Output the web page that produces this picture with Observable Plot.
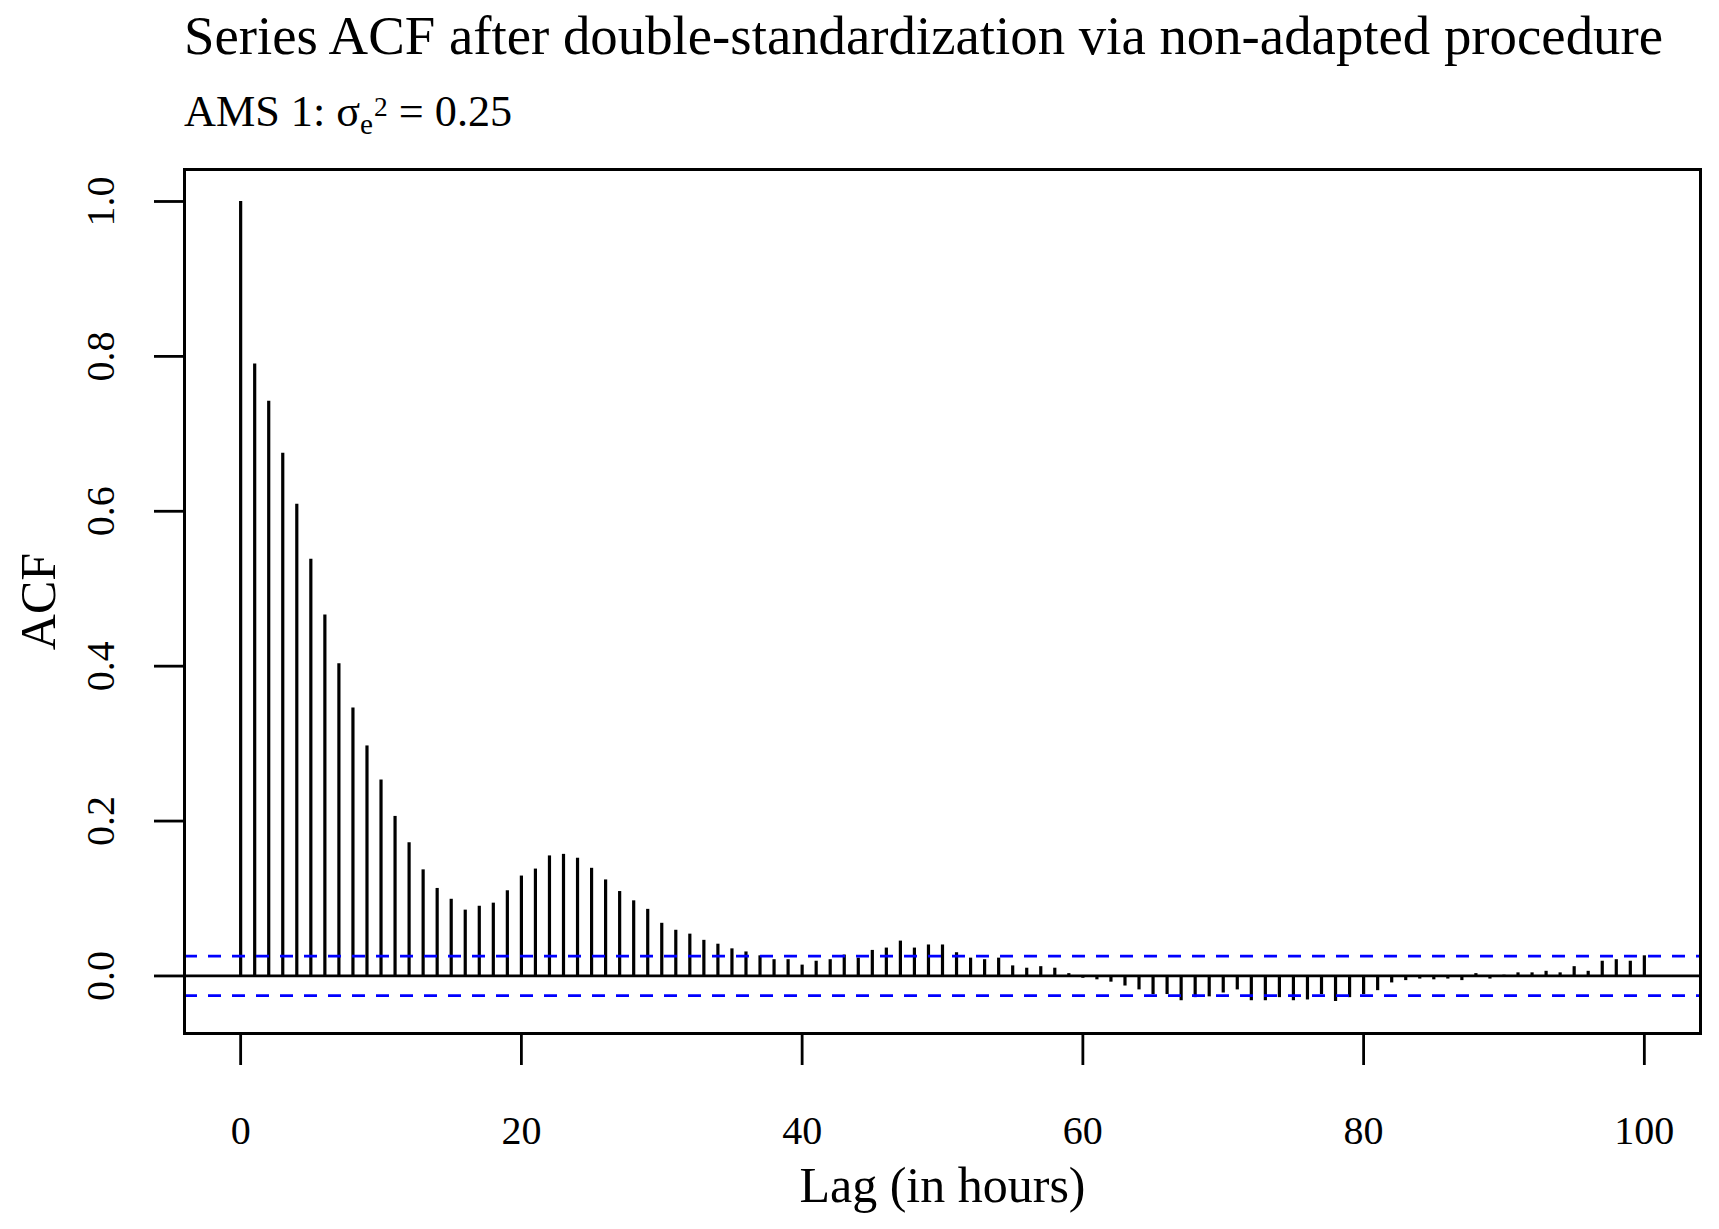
<!DOCTYPE html>
<html>
<head>
<meta charset="utf-8">
<script src="https://cdn.jsdelivr.net/npm/d3@7"></script>
<script src="https://cdn.jsdelivr.net/npm/@observablehq/plot@0.6"></script>
<style>
  body { margin: 0; background: #ffffff; }
  #wrap { position: relative; width: 1719px; height: 1229px; font-family: "Liberation Serif", "Times New Roman", serif; color: #000; background: #fff; overflow: hidden; }
  #header { position: relative; width: 1719px; height: 150px; }
  #title { position: absolute; left: 184px; top: 9px; font-size: 54.8px; line-height: 1; white-space: nowrap; }
  #subtitle { position: absolute; left: 184px; top: 90px; font-size: 44.2px; line-height: 1; white-space: nowrap; }
  .sub { font-size: 0.66em; position: relative; top: 0.26em; }
  .sup { font-size: 0.62em; position: relative; top: -0.38em; margin-left: 0.04em; }
  #chart svg { display: block; }
</style>
</head>
<body>
<div id="wrap">
  <div id="header">
    <div id="title">Series ACF after double-standardization via non-adapted procedure</div>
    <div id="subtitle">AMS 1: σ<span class="sub">e</span><span class="sup">2</span> = 0.25</div>
  </div>
  <div id="chart"></div>
</div>
<script>
// Lag values (hours)
const lags = [0,1,2,3,4,5,6,7,8,9,10,11,12,13,14,15,16,17,18,19,20,
  21,22,23,24,25,26,27,28,29,30,31,32,33,34,35,36,37,38,39,40,
  41,42,43,44,45,46,47,48,49,50,51,52,53,54,55,56,57,58,59,60,
  61,62,63,64,65,66,67,68,69,70,71,72,73,74,75,76,77,78,79,80,
  81,82,83,84,85,86,87,88,89,90,91,92,93,94,95,96,97,98,99,100];

// ACF values
const acfValues = [1.000,0.790,0.742,0.675,0.609,0.538,0.466,0.403,0.346,0.297,0.253,
  0.206,0.172,0.137,0.113,0.099,0.085,0.090,0.094,0.110,0.129,
  0.138,0.155,0.157,0.152,0.139,0.124,0.109,0.097,0.086,0.068,
  0.059,0.054,0.046,0.041,0.035,0.031,0.026,0.021,0.021,0.014,
  0.019,0.021,0.027,0.023,0.033,0.036,0.045,0.036,0.040,0.040,
  0.030,0.023,0.021,0.023,0.013,0.010,0.012,0.010,0.003,-0.003,
  -0.005,-0.008,-0.013,-0.018,-0.024,-0.024,-0.032,-0.028,-0.027,-0.022,
  -0.018,-0.032,-0.032,-0.028,-0.032,-0.031,-0.024,-0.033,-0.028,-0.024,
  -0.019,-0.009,-0.006,-0.004,-0.005,-0.004,-0.006,0.003,-0.004,0.001,
  0.004,0.004,0.006,0.004,0.012,0.006,0.019,0.021,0.019,0.026];

// Confidence bound (dashed blue lines)
const ciBounds = [0.0255, -0.0255];

const xTicks = [0, 20, 40, 60, 80, 100];
const yTicks = [0.0, 0.2, 0.4, 0.6, 0.8, 1.0];

const xLabel = "Lag (in hours)";
const yLabel = "ACF";

const data = lags.map((lag, i) => ({lag, acf: acfValues[i]}));

const plot = Plot.plot({
  width: 1719,
  height: 1079,
  marginTop: 19,
  marginBottom: 196,
  marginLeft: 184,
  marginRight: 19,
  style: {fontFamily: "Liberation Serif, Times New Roman, serif", background: "white", color: "black", overflow: "visible"},
  x: {domain: [-4, 104]},
  y: {domain: [-0.0743, 1.0413]},
  marks: [
    Plot.ruleX(data, {x: "lag", y1: 0, y2: "acf", stroke: "black", strokeWidth: 3.2}),
    Plot.ruleY([0], {stroke: "black", strokeWidth: 2.8}),
    Plot.ruleY(ciBounds, {stroke: "#0000ff", strokeWidth: 2.8, strokeDasharray: "13,11"}),
    Plot.frame({stroke: "black", strokeWidth: 3}),
    Plot.axisX({ticks: xTicks, tickSize: 32, tickPadding: 50, fontSize: 40, label: null,
      tickFormat: d => String(d), strokeWidth: 2.8}),
    Plot.axisY({ticks: yTicks, tickSize: 30, tickPadding: 41, tickRotate: -90, fontSize: 40, label: null,
      tickFormat: d => d.toFixed(1), strokeWidth: 2.8}),
    Plot.text([xLabel], {text: d => d, frameAnchor: "bottom", dy: 168, lineAnchor: "bottom", fontSize: 50, fill: "black"}),
    Plot.text([yLabel], {text: d => d, frameAnchor: "left", dx: -130, rotate: -90, lineAnchor: "bottom", textAnchor: "middle", fontSize: 50, fill: "black"})
  ]
});

document.getElementById("chart").appendChild(plot);
</script>
</body>
</html>
